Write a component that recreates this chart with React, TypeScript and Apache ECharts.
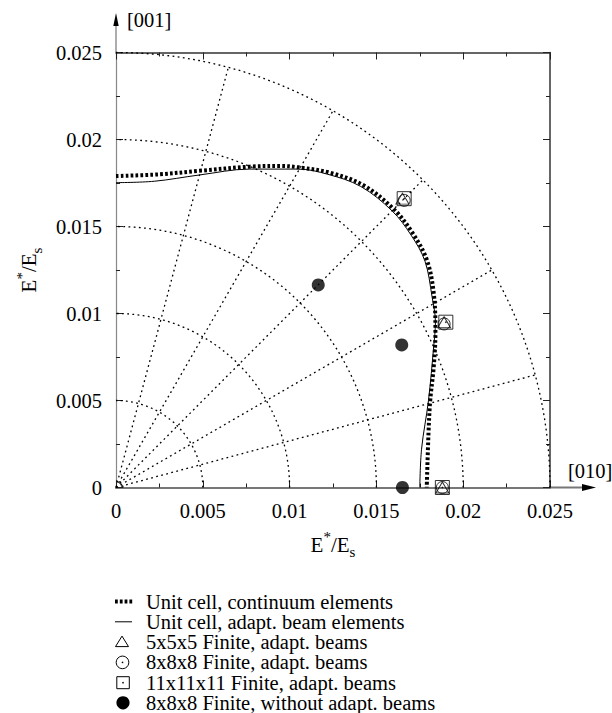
import React, { useEffect, useRef } from 'react';
import * as echarts from 'echarts';

// ---- data ----
const axisMin = 0;
const axisMax = 0.025;
const axisInterval = 0.005;

const continuumX = [0, 0.0025, 0.0048, 0.0077, 0.0095, 0.0105, 0.0123, 0.0142, 0.016, 0.0171, 0.0179, 0.0183, 0.0184, 0.0183, 0.0181, 0.018, 0.0179];
const continuumY = [0.0179, 0.018, 0.0182, 0.01844, 0.01848, 0.0184, 0.0181, 0.0174, 0.016, 0.0146, 0.0131, 0.0112, 0.0089, 0.0069, 0.005, 0.0031, 0];

const beamX = [0, 0.0022, 0.0048, 0.0077, 0.0105, 0.0122, 0.0141, 0.0159, 0.017, 0.0178, 0.0182, 0.0184, 0.0183, 0.018, 0.0176, 0.0175];
const beamY = [0.01752, 0.0176, 0.01796, 0.0183, 0.0183, 0.018, 0.0173, 0.0159, 0.0145, 0.013, 0.011, 0.0095, 0.0081, 0.005, 0.0022, 0];

const tri5X = [0.0165, 0.0189, 0.0188];
const tri5Y = [0.0166, 0.0095, 0];
const circ8X = [0.0166, 0.0189, 0.0188];
const circ8Y = [0.0165, 0.0094, 0];
const sq11X = [0.0166, 0.019, 0.0188];
const sq11Y = [0.0166, 0.0095, 0];
const full8X = [0.01165, 0.01646, 0.0165];
const full8Y = [0.01164, 0.00819, 0];

const gridRadii = [0.0004, 0.005, 0.01, 0.015, 0.02, 0.025];
const gridAnglesDeg = [15, 30, 45, 60, 75];

const legendLabels = [
  'Unit cell, continuum elements',
  'Unit cell, adapt. beam elements',
  '5x5x5 Finite, adapt. beams',
  '8x8x8 Finite, adapt. beams',
  '11x11x11 Finite, adapt. beams',
  '8x8x8 Finite, without adapt. beams',
];

const FONT = 'Liberation Serif';

const zip = (xs: number[], ys: number[]) => xs.map((x, i) => [x, ys[i]]);

function buildOption() {
  const GL = 116, GT = 52.5, GR = 550, GB = 487.5;
  const gridLine = { color: '#000', width: 1.3, type: [1.8, 3.4] };

  const gridSeries: any[] = [];
  gridRadii.forEach((r, k) => {
    const pts: number[][] = [];
    for (let a = 0; a <= 90; a += 1) {
      const t = (a * Math.PI) / 180;
      pts.push([r * Math.cos(t), r * Math.sin(t)]);
    }
    gridSeries.push({
      type: 'line', name: 'arc' + k, data: pts, showSymbol: false, silent: true, z: 1,
      smooth: false, clip: false, lineStyle: gridLine,
    });
  });
  gridAnglesDeg.forEach((a, k) => {
    const t = (a * Math.PI) / 180;
    gridSeries.push({
      type: 'line', name: 'ray' + k,
      data: [[0, 0], [axisMax * Math.cos(t), axisMax * Math.sin(t)]],
      showSymbol: false, silent: true, z: 1, lineStyle: gridLine,
    });
  });

  const richName = {
    fontFamily: FONT, fontSize: 20, color: '#000',
    rich: {
      e: { fontFamily: FONT, fontSize: 21, lineHeight: 30, verticalAlign: 'middle', color: '#000' },
      sup: { fontFamily: FONT, fontSize: 15, lineHeight: 18, verticalAlign: 'top', color: '#000' },
      sub: { fontFamily: FONT, fontSize: 15, lineHeight: 16, verticalAlign: 'bottom', color: '#000' },
    },
  };
  const nameText = '{e|E}{sup|*}{e|/E}{sub|s}';

  const baseAxis = {
    type: 'value', min: axisMin, max: axisMax, interval: axisInterval,
    splitLine: { show: false },
    axisTick: { show: true, inside: true, length: 7, lineStyle: { color: '#222', width: 1 } },
    minorTick: { show: true, splitNumber: 2, length: 4, lineStyle: { color: '#222', width: 1 } },
  };

  const legendRowY = [601.5, 621.8, 642.1, 662.4, 682.7, 702.8];
  const legendGraphics: any[] = [];
  legendLabels.forEach((lab, i) => {
    legendGraphics.push({
      type: 'text', x: 146, y: legendRowY[i],
      style: { text: lab, fontFamily: FONT, fontSize: 20.5, lineHeight: 19, fill: '#000', verticalAlign: 'middle', align: 'left' },
    });
  });
  // legend icons
  for (let k = 0; k < 4; k++) {
    legendGraphics.push({ type: 'rect', shape: { x: 115 + k * 4.8, y: legendRowY[0] - 2, width: 2.8, height: 4 }, style: { fill: '#000' } });
  }
  legendGraphics.push({ type: 'line', shape: { x1: 115, y1: legendRowY[1], x2: 132, y2: legendRowY[1] }, style: { stroke: '#000', lineWidth: 1 } });
  legendGraphics.push({ type: 'polygon', shape: { points: [[115.5, legendRowY[2] + 4.5], [128.5, legendRowY[2] + 4.5], [122, legendRowY[2] - 6]] }, style: { fill: 'none', stroke: '#000', lineWidth: 1 } });
  legendGraphics.push({ type: 'circle', shape: { cx: 122.5, cy: legendRowY[3], r: 6.3 }, style: { fill: 'none', stroke: '#000', lineWidth: 1 } });
  legendGraphics.push({ type: 'circle', shape: { cx: 122.5, cy: legendRowY[3], r: 0.8 }, style: { fill: '#000' } });
  legendGraphics.push({ type: 'rect', shape: { x: 116.8, y: legendRowY[4] - 6, width: 12.5, height: 12 }, style: { fill: 'none', stroke: '#000', lineWidth: 1 } });
  legendGraphics.push({ type: 'circle', shape: { cx: 123, cy: legendRowY[4], r: 0.8 }, style: { fill: '#000' } });
  legendGraphics.push({ type: 'circle', shape: { cx: 123, cy: legendRowY[5], r: 6.6 }, style: { fill: '#000' } });

  return {
    animation: false,
    backgroundColor: '#fff',
    textStyle: { fontFamily: FONT },
    grid: { left: GL, top: GT, width: GR - GL, height: GB - GT, containLabel: false, show: false },
    xAxis: [
      {
        ...baseAxis, position: 'bottom',
        axisLine: { show: true, onZero: false, lineStyle: { color: '#777', width: 2 } },
        axisLabel: { show: true, margin: 13, fontFamily: FONT, fontSize: 20.5, color: '#000' },
        name: nameText, nameLocation: 'middle', nameGap: 42, nameTextStyle: richName,
      },
      {
        ...baseAxis, position: 'top',
        axisLine: { show: true, onZero: false, lineStyle: { color: '#333', width: 1.5 } },
        axisLabel: { show: false },
      },
    ],
    yAxis: [
      {
        ...baseAxis, position: 'left',
        axisLine: { show: true, onZero: false, lineStyle: { color: '#888', width: 1.2 } },
        axisLabel: { show: true, margin: 14, fontFamily: FONT, fontSize: 20.5, color: '#000' },
        name: nameText, nameLocation: 'middle', nameGap: 72, nameTextStyle: richName,
      },
      {
        ...baseAxis, position: 'right',
        axisLine: { show: true, onZero: false, lineStyle: { color: '#333', width: 1.5 } },
        axisLabel: { show: false },
      },
    ],
    graphic: [
      { type: 'line', shape: { x1: GR, y1: GB, x2: 586, y2: GB }, style: { stroke: '#777', lineWidth: 2 } },
      { type: 'polygon', shape: { points: [[582, GB - 3.5], [596, GB], [582, GB + 3.5]] }, style: { fill: '#000' } },
      { type: 'line', shape: { x1: GL, y1: GT, x2: GL, y2: 24 }, style: { stroke: '#777', lineWidth: 1.2 } },
      { type: 'polygon', shape: { points: [[113.3, 26], [116, 13], [118.7, 26]] }, style: { fill: '#000' } },
      { type: 'text', x: 568, y: 471, style: { text: '[010]', fontFamily: FONT, fontSize: 20.5, fill: '#000', verticalAlign: 'middle' } },
      { type: 'text', x: 127, y: 20, style: { text: '[001]', fontFamily: FONT, fontSize: 20.5, fill: '#000', verticalAlign: 'middle' } },
      ...legendGraphics,
    ],
    series: [
      ...gridSeries,
      {
        type: 'line', name: legendLabels[1], data: zip(beamX, beamY), smooth: 0.35,
        showSymbol: false, z: 2, lineStyle: { color: '#000', width: 1 },
      },
      {
        type: 'line', name: legendLabels[0], data: zip(continuumX, continuumY), smooth: 0.35,
        showSymbol: false, z: 3, lineStyle: { color: '#000', width: 4, type: [2.7, 2.2], cap: 'butt' },
      },
      {
        type: 'scatter', name: legendLabels[2], data: zip(tri5X, tri5Y), symbol: 'triangle', symbolSize: [13, 11], z: 4,
        itemStyle: { color: 'rgba(0,0,0,0)', borderColor: '#000', borderWidth: 1 },
      },
      {
        type: 'scatter', name: legendLabels[3], data: zip(circ8X, circ8Y), symbol: 'circle', symbolSize: 12, z: 4,
        itemStyle: { color: 'rgba(0,0,0,0)', borderColor: '#000', borderWidth: 1 },
      },
      {
        type: 'scatter', name: legendLabels[4], data: zip(sq11X, sq11Y),
        symbol: 'path://M0,0H14V14H0Z M6.6,6.6H7.4V7.4H6.6Z', symbolSize: 14, z: 4,
        itemStyle: { color: 'rgba(0,0,0,0)', borderColor: '#000', borderWidth: 1 },
      },
      {
        type: 'scatter', name: legendLabels[5], data: zip(full8X, full8Y), symbol: 'circle', symbolSize: 13, z: 4,
        itemStyle: { color: '#000' },
      },
    ],
  };
}

export default function App() {
  const ref = useRef<HTMLDivElement>(null);
  useEffect(() => {
    if (!ref.current) return;
    const chart = echarts.init(ref.current, null, { renderer: 'svg' });
    chart.setOption(buildOption() as any);
    return () => chart.dispose();
  }, []);
  return (
    <div
      ref={ref}
      style={{ position: 'fixed', left: 0, top: 0, width: 612, height: 713, background: '#fff' }}
    />
  );
}
